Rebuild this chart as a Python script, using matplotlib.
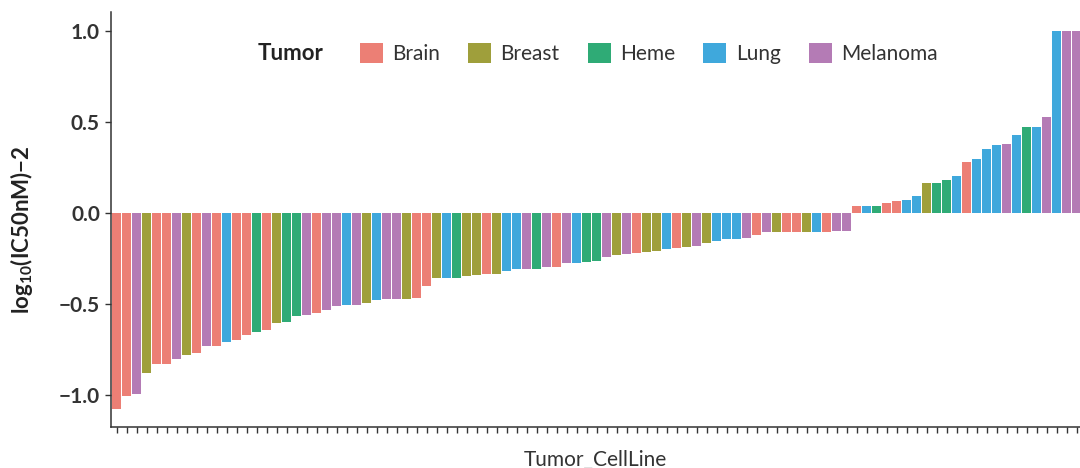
import numpy as np
import matplotlib
matplotlib.use('Agg')
from matplotlib import pyplot as plt
from matplotlib.patches import Patch

#%% Data (sorted by value)

tumor_types = ['Brain', 'Breast', 'Heme', 'Lung', 'Melanoma']
tumor_colors = ['#EC7F75', '#9F9F3B', '#2FAB76', '#3FA8DC', '#B47BB5']

tumor = ['Brain', 'Brain', 'Melanoma', 'Breast', 'Brain', 'Brain', 'Melanoma', 'Breast',
         'Brain', 'Melanoma', 'Brain', 'Lung', 'Brain', 'Brain', 'Heme', 'Brain',
         'Breast', 'Heme', 'Heme', 'Melanoma', 'Brain', 'Melanoma', 'Melanoma', 'Lung',
         'Melanoma', 'Breast', 'Lung', 'Melanoma', 'Melanoma', 'Breast', 'Brain', 'Brain',
         'Breast', 'Lung', 'Heme', 'Breast', 'Breast', 'Brain', 'Breast', 'Lung',
         'Lung', 'Melanoma', 'Heme', 'Melanoma', 'Brain', 'Melanoma', 'Lung', 'Heme',
         'Heme', 'Melanoma', 'Breast', 'Melanoma', 'Brain', 'Breast', 'Breast', 'Lung',
         'Brain', 'Breast', 'Melanoma', 'Breast', 'Lung', 'Lung', 'Lung', 'Melanoma',
         'Brain', 'Melanoma', 'Breast', 'Brain', 'Brain', 'Breast', 'Lung', 'Brain',
         'Melanoma', 'Melanoma', 'Brain', 'Lung', 'Heme', 'Brain', 'Brain', 'Lung',
         'Lung', 'Breast', 'Heme', 'Heme', 'Lung', 'Brain', 'Lung', 'Lung',
         'Lung', 'Melanoma', 'Lung', 'Heme', 'Lung', 'Melanoma', 'Lung', 'Melanoma',
         'Melanoma']

log_ic50 = [-1.079, -1.005, -0.996, -0.881, -0.828, -0.828, -0.802, -0.780,
            -0.771, -0.733, -0.731, -0.709, -0.700, -0.672, -0.654, -0.643,
            -0.604, -0.599, -0.566, -0.559, -0.548, -0.533, -0.511, -0.505,
            -0.504, -0.496, -0.478, -0.474, -0.473, -0.473, -0.467, -0.399,
            -0.359, -0.359, -0.355, -0.346, -0.342, -0.337, -0.337, -0.319,
            -0.310, -0.310, -0.308, -0.295, -0.295, -0.277, -0.277, -0.269,
            -0.262, -0.240, -0.232, -0.223, -0.222, -0.212, -0.207, -0.200,
            -0.190, -0.189, -0.183, -0.163, -0.156, -0.145, -0.145, -0.136,
            -0.119, -0.106, -0.106, -0.105, -0.105, -0.105, -0.103, -0.103,
            -0.100, -0.100, 0.040, 0.040, 0.040, 0.053, 0.066, 0.071,
            0.093, 0.167, 0.167, 0.181, 0.203, 0.278, 0.295, 0.353,
            0.374, 0.377, 0.427, 0.473, 0.473, 0.526, 1.0, 1.0,
            1.0]

#%% Plot

plt.rcParams['font.family'] = ['Lato', 'DejaVu Sans']
plt.rcParams['mathtext.fontset'] = 'custom'
plt.rcParams['mathtext.rm'] = 'Lato'
plt.rcParams['mathtext.bf'] = 'Lato:bold'

color_map = dict(zip(tumor_types, tumor_colors))
x = np.arange(len(log_ic50))

fig = plt.figure(figsize = (10.8, 4.68), dpi = 100)
ax = fig.add_axes([111/1080, 41/468, 969/1080, 415/468])

ax.bar(x, log_ic50, width = 0.92, color = [color_map[t] for t in tumor], linewidth = 0)

ax.set_xlim(-0.55, len(x) - 0.65)
ax.set_ylim(-1.176, 1.104)
ax.set_xticks(x)
ax.set_xticklabels([])
ax.set_yticks([-1.0, -0.5, 0.0, 0.5, 1.0])
ax.set_yticklabels(['\u22121.0', '\u22120.5', '0.0', '0.5', '1.0'],
                   fontsize = 15, fontweight = 'bold', color = '#333333')
ax.tick_params(axis = 'both', length = 4, width = 1, color = '#333333', pad = 4)

for side in ['top', 'right']:
    ax.spines[side].set_visible(False)
for side in ['left', 'bottom']:
    ax.spines[side].set_color('#333333')
    ax.spines[side].set_linewidth(1.1)

ax.set_ylabel(r'$\mathbf{log_{10}}$(IC50nM)$\mathbf{-}$2', fontsize = 16, fontweight = 'bold',
              color = '#222222')
ax.yaxis.set_label_coords(-0.078, 0.475)
ax.set_xlabel('Tumor_CellLine', fontsize = 15, color = '#333333', labelpad = 8)

handles = [Patch(facecolor = c, edgecolor = 'none') for c in tumor_colors]
leg = ax.legend(handles, tumor_types, ncol = 5, loc = 'center', bbox_to_anchor = (0.555, 0.899),
                frameon = False, fontsize = 15, handlelength = 1.1, handleheight = 1.1,
                handletextpad = 0.45, columnspacing = 1.35)
for txt in leg.get_texts():
    txt.set_color('#333333')

fig.text(258/1080, 1 - 54/468, 'Tumor', fontsize = 16, fontweight = 'bold',
         color = '#222222', va = 'center', ha = 'left')

fig.savefig('out.png', dpi = 100)
